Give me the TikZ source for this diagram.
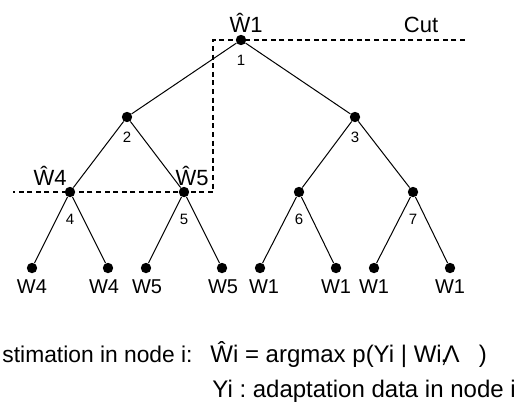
\documentclass[tikz,border=0pt]{standalone}
\usepackage{fontspec}
\setmainfont{Liberation Sans}
\usetikzlibrary{positioning}
\frenchspacing

\begin{document}
\begin{tikzpicture}[x=0.5pt, y=-0.5pt,
		v/.style = {circle, fill=black, inner sep=0, minimum size=5.2pt},
		e/.style = {black, line width=0.5pt},
		cutline/.style = {line width=1pt, dash pattern=on 2.5pt off 1.8pt},
		w/.style = {anchor=base, inner sep=0, font=\fontsize{10}{12}\selectfont},
		wh/.style = {anchor=base, inner sep=0, font=\fontsize{11}{13}\selectfont},
		num/.style = {inner sep=0, font=\fontsize{7.5}{9}\selectfont},
		txt/.style = {inner sep=0, font=\fontsize{12}{14}\selectfont}
		]
		\useasboundingbox (0, 0) rectangle (524, 408);

		%Nodes
		\node[v]	(n1)	at	(241, 40)	{};
		\node[v]	(n2)	at	(127, 117)	{};
		\node[v]	(n3)	at	(355, 117)	{};
		\node[v]	(n4)	at	(70, 192)	{};
		\node[v]	(n5)	at	(184, 192)	{};
		\node[v]	(n6)	at	(299, 192)	{};
		\node[v]	(n7)	at	(413, 192)	{};
		\foreach \i/\x in {1/32, 2/108, 3/146, 4/222, 5/260, 6/336, 7/374, 8/450}
			\node[v]	(l\i)	at	(\x, 268)	{};

		%Lines
		\draw[e]	(n1)	--	(n2);
		\draw[e]	(n1)	--	(n3);
		\draw[e]	(n2)	--	(n4);
		\draw[e]	(n2)	--	(n5);
		\draw[e]	(n3)	--	(n6);
		\draw[e]	(n3)	--	(n7);
		\draw[e]	(n4)	--	(l1);
		\draw[e]	(n4)	--	(l2);
		\draw[e]	(n5)	--	(l3);
		\draw[e]	(n5)	--	(l4);
		\draw[e]	(n6)	--	(l5);
		\draw[e]	(n6)	--	(l6);
		\draw[e]	(n7)	--	(l7);
		\draw[e]	(n7)	--	(l8);

		%Cut
		\coordinate	(c1)	at	(465, 40);
		\coordinate	(c2)	at	(213, 40);
		\coordinate	(c3)	at	(213, 192);
		\coordinate	(c4)	at	(13, 192);
		\draw[cutline]	(c1)	--	(c2)	--	(c3)	--	(c4);
		\node[wh]	(cut)	at	(421, 32)	{Cut};

		%Labels
		\node[wh]	(h1)	at	(246, 32)	{Ŵ1};
		\node[wh]	(h4)	at	(50, 185)	{Ŵ4};
		\node[wh]	(h5)	at	(192, 185)	{Ŵ5};
		\foreach \i in {1, 2, 3}
			\node[num, below=12.5pt of n\i.center, anchor=base]	(k\i)	{\i};
		\foreach \i in {4, 5, 6, 7}
			\node[num, below=16pt of n\i.center, anchor=base]	(k\i)	{\i};
		\foreach \i/\x/\t in {1/32/W4, 2/104/W4, 3/147/W5, 4/223/W5, 5/264/W1, 6/336/W1, 7/374/W1, 8/450/W1}
			\node[w]	(t\i)	at	(\x, 293)	{\t};

		%Estimation
		\node[txt, anchor=base east, font=\fontsize{11.4}{14}\selectfont]	(est)	at	(193, 362)	{stimation in node i:};
		\node[txt, anchor=base west]	(eq)	at	(210, 362)	{Ŵi = argmax p(Yi | Wi\kern-0.6pt,\kern-1.8ptΛ\hspace{0.8em})};
		\node[txt, anchor=base west]	(ydef)	at	(212, 397)	{Yi : adaptation data in node i};
	\end{tikzpicture}
\end{document}
